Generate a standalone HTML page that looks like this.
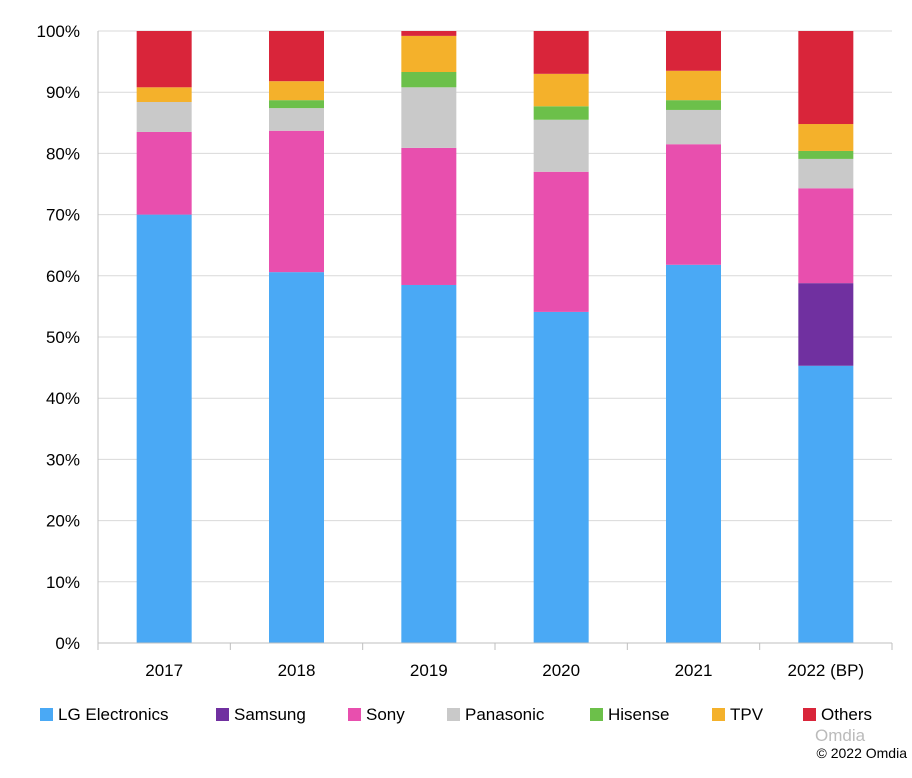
<!DOCTYPE html>
<html><head><meta charset="utf-8"><style>
body{margin:0;background:#fff;font-family:"Liberation Sans",Arial,sans-serif;}
svg text{font-family:"Liberation Sans",Arial,sans-serif;}
</style></head><body>
<svg id="chart" width="912" height="773"></svg>
<script>
const categories=["2017","2018","2019","2020","2021","2022 (BP)"];
const seriesNames=["LG Electronics","Samsung","Sony","Panasonic","Hisense","TPV","Others"];
const colors=["#4aa9f5","#7030a0","#e84fae","#c9c9c9","#6cc04a","#f4b12b","#d9253a"];
const lg=[70,60.6,58.5,54.1,61.8,45.3];
const samsung=[0,0,0,0,0,13.5];
const sony=[13.5,23.1,22.4,22.9,19.7,15.5];
const panasonic=[4.9,3.7,9.9,8.5,5.6,4.8];
const hisense=[0,1.3,2.5,2.2,1.6,1.3];
const tpv=[2.4,3.1,5.9,5.3,4.8,4.4];
const others=[9.2,8.2,0.8,7,6.5,15.2];
const yTicks=[0,10,20,30,40,50,60,70,80,90,100];
const series=[lg,samsung,sony,panasonic,hisense,tpv,others];
const NS="http://www.w3.org/2000/svg";
const svg=document.getElementById('chart');
const x0=98,x1=892,y0=643,y1=31;
const bw=(x1-x0)/categories.length;
const y=v=>y0-(v/100)*(y0-y1);
function mk(t,a,p){const e=document.createElementNS(NS,t);for(const k in a)e.setAttribute(k,a[k]);(p||svg).appendChild(e);return e;}
yTicks.forEach(t=>{
  if(t>0){const g=mk('line',{x1:x0,x2:x1,y1:y(t),y2:y(t),stroke:'#d9d9d9','stroke-width':1});
  
  }
  const l=mk('text',{x:80,y:y(t)+6,'text-anchor':'end','font-size':17,fill:'#000'});l.textContent=t+'%';
  
  
});
categories.forEach((c,i)=>{
  let acc=0;const cx=x0+bw*i+bw/2;
  series.forEach((s,j)=>{
    const v=s[i];if(v<=0){return;}
    const r=mk('rect',{x:cx-27.5,width:55,y:y(acc+v),height:y(acc)-y(acc+v),fill:colors[j]});
    
    
    acc+=v;
  });
  const t=mk('text',{x:cx,y:676,'text-anchor':'middle','font-size':17});t.textContent=c;
  
  
});
for(let i=0;i<=categories.length;i++){
  const tk=mk('line',{x1:x0+bw*i,x2:x0+bw*i,y1:y0,y2:y0+7,stroke:'#bfbfbf'});
  
  
}
const ax=mk('line',{x1:x0,x2:x0,y1:y1,y2:y0,stroke:'#bfbfbf'});


const bx=mk('line',{x1:x0,x2:x1,y1:y0,y2:y0,stroke:'#bfbfbf'});


const lx=[40,216,348,447,590,712,803];
seriesNames.forEach((n,j)=>{
  const g=mk('g',{});
  
  
  mk('rect',{x:lx[j],y:708,width:13,height:13,fill:colors[j]},g);
  const t=mk('text',{x:lx[j]+18,y:720,'font-size':17},g);t.textContent=n;
});
const w=mk('text',{x:815,y:741,'font-size':17,fill:'#bbb'});w.textContent='Omdia';


const cp=mk('text',{x:907,y:758,'font-size':14,'text-anchor':'end'});cp.textContent='© 2022 Omdia';


</script>
</body></html>
